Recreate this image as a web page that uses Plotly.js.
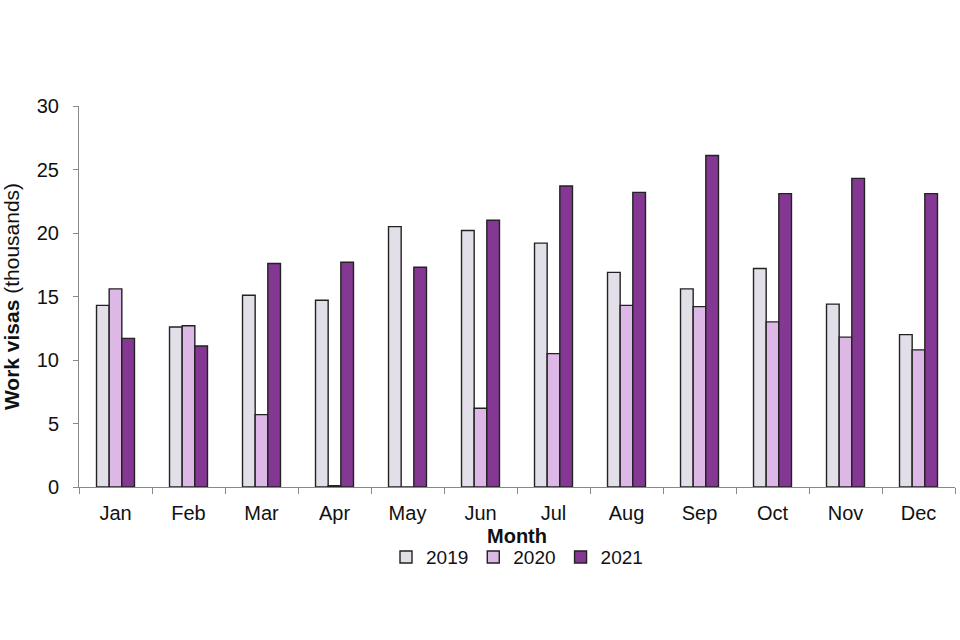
<!DOCTYPE html>
<html>
<head>
<meta charset="utf-8">
<script src="https://cdn.plot.ly/plotly-3.0.1.min.js"></script>
<style>html,body{margin:0;padding:0;background:#fff;}#chart{width:960px;height:640px;}</style>
</head>
<body>
<div id="chart"></div>
<script>
const months = ["Jan","Feb","Mar","Apr","May","Jun","Jul","Aug","Sep","Oct","Nov","Dec"];
const v2019 = [14.3,12.6,15.1,14.7,20.5,20.2,19.2,16.9,15.6,17.2,14.4,12.0];
const v2020 = [15.6,12.7,5.7,0.1,0,6.2,10.5,14.3,14.2,13.0,11.8,10.8];
const v2021 = [11.7,11.1,17.6,17.7,17.3,21.0,23.7,23.2,26.1,23.1,24.3,23.1];
const seriesNames = ["2019","2020","2021"];
const colors = ["#E3DFE8","#DDB8E6","#843894"];

const vals = [v2019, v2020, v2021];
const traces = vals.map((v,i) => ({
  type: "bar",
  name: seriesNames[i],
  x: months,
  y: v,
  marker: {color: colors[i], line: {color: "#222222", width: 1.4}},
  hoverinfo: "x+y+name"
}));

const layout = {
  width: 960, height: 640,
  margin: {l: 79, r: 5, t: 106, b: 153},
  paper_bgcolor: "#ffffff", plot_bgcolor: "#ffffff",
  font: {family: "Liberation Sans, Arial, sans-serif", color: "#111111", size: 20},
  barmode: "group",
  bargap: 0.48,
  bargroupgap: 0,
  showlegend: true,
  legend: {
    orientation: "h", x: 0.5, xanchor: "center", y: -0.184, yanchor: "middle",
    font: {size: 19}, itemwidth: 30, traceorder: "normal"
  },
  xaxis: {
    type: "category",
    showline: true, linecolor: "#888888", linewidth: 1,
    ticks: "outside", tickson: "boundaries", ticklen: 6, tickcolor: "#888888",
    tickfont: {size: 20}, ticklabelstandoff: 8,
    showgrid: false, zeroline: false,
    title: {text: "<b>Month</b>", font: {size: 20}, standoff: 5}
  },
  yaxis: {
    range: [0, 30], dtick: 5, tick0: 0,
    showline: true, linecolor: "#888888", linewidth: 1,
    ticks: "outside", ticklen: 5, tickcolor: "#888888",
    tickfont: {size: 20}, ticklabelstandoff: 10,
    showgrid: false, zeroline: false,
    title: {text: "<b>Work visas</b> (thousands)", font: {size: 21}, standoff: 12}
  }
};

Plotly.newPlot("chart", traces, layout, {displayModeBar: false, staticPlot: true});
</script>
</body>
</html>
